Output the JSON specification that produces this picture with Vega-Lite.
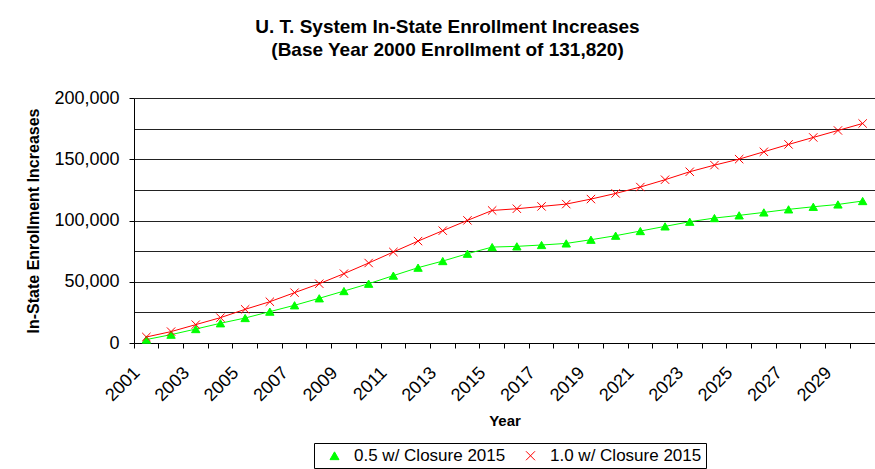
{
  "$schema": "https://vega.github.io/schema/vega-lite/v6.json",
  "width": 741,
  "height": 245,
  "autosize": "none",
  "padding": {"left": 134, "top": 98, "right": 0, "bottom": 126},
  "background": "white",
  "config": {"view": {"stroke": null}, "font": "Liberation Sans"},
  "title": {
    "text": ["U. T. System In-State Enrollment Increases", "(Base Year 2000 Enrollment of 131,820)"],
    "font": "Liberation Sans",
    "fontSize": 19,
    "fontWeight": "bold",
    "color": "black",
    "anchor": "middle",
    "dx": -57,
    "offset": 29,
    "lineHeight": 23
  },
  "data": {
    "values": [
      {"Year": "2001", "Series": "0.5 w/ Closure 2015", "Value": 2800},
      {"Year": "2002", "Series": "0.5 w/ Closure 2015", "Value": 6800},
      {"Year": "2003", "Series": "0.5 w/ Closure 2015", "Value": 11400},
      {"Year": "2004", "Series": "0.5 w/ Closure 2015", "Value": 16100},
      {"Year": "2005", "Series": "0.5 w/ Closure 2015", "Value": 20400},
      {"Year": "2006", "Series": "0.5 w/ Closure 2015", "Value": 25600},
      {"Year": "2007", "Series": "0.5 w/ Closure 2015", "Value": 30800},
      {"Year": "2008", "Series": "0.5 w/ Closure 2015", "Value": 36500},
      {"Year": "2009", "Series": "0.5 w/ Closure 2015", "Value": 42400},
      {"Year": "2010", "Series": "0.5 w/ Closure 2015", "Value": 48400},
      {"Year": "2011", "Series": "0.5 w/ Closure 2015", "Value": 55000},
      {"Year": "2012", "Series": "0.5 w/ Closure 2015", "Value": 61500},
      {"Year": "2013", "Series": "0.5 w/ Closure 2015", "Value": 66900},
      {"Year": "2014", "Series": "0.5 w/ Closure 2015", "Value": 72900},
      {"Year": "2015", "Series": "0.5 w/ Closure 2015", "Value": 78300},
      {"Year": "2016", "Series": "0.5 w/ Closure 2015", "Value": 78900},
      {"Year": "2017", "Series": "0.5 w/ Closure 2015", "Value": 80000},
      {"Year": "2018", "Series": "0.5 w/ Closure 2015", "Value": 81300},
      {"Year": "2019", "Series": "0.5 w/ Closure 2015", "Value": 84300},
      {"Year": "2020", "Series": "0.5 w/ Closure 2015", "Value": 87600},
      {"Year": "2021", "Series": "0.5 w/ Closure 2015", "Value": 91400},
      {"Year": "2022", "Series": "0.5 w/ Closure 2015", "Value": 95200},
      {"Year": "2023", "Series": "0.5 w/ Closure 2015", "Value": 99000},
      {"Year": "2024", "Series": "0.5 w/ Closure 2015", "Value": 102000},
      {"Year": "2025", "Series": "0.5 w/ Closure 2015", "Value": 104200},
      {"Year": "2026", "Series": "0.5 w/ Closure 2015", "Value": 106600},
      {"Year": "2027", "Series": "0.5 w/ Closure 2015", "Value": 109100},
      {"Year": "2028", "Series": "0.5 w/ Closure 2015", "Value": 111200},
      {"Year": "2029", "Series": "0.5 w/ Closure 2015", "Value": 113100},
      {"Year": "2030", "Series": "0.5 w/ Closure 2015", "Value": 115900},
      {"Year": "2001", "Series": "1.0 w/ Closure 2015", "Value": 4900},
      {"Year": "2002", "Series": "1.0 w/ Closure 2015", "Value": 9300},
      {"Year": "2003", "Series": "1.0 w/ Closure 2015", "Value": 15000},
      {"Year": "2004", "Series": "1.0 w/ Closure 2015", "Value": 20700},
      {"Year": "2005", "Series": "1.0 w/ Closure 2015", "Value": 27500},
      {"Year": "2006", "Series": "1.0 w/ Closure 2015", "Value": 33700},
      {"Year": "2007", "Series": "1.0 w/ Closure 2015", "Value": 41100},
      {"Year": "2008", "Series": "1.0 w/ Closure 2015", "Value": 48400},
      {"Year": "2009", "Series": "1.0 w/ Closure 2015", "Value": 56600},
      {"Year": "2010", "Series": "1.0 w/ Closure 2015", "Value": 65300},
      {"Year": "2011", "Series": "1.0 w/ Closure 2015", "Value": 74300},
      {"Year": "2012", "Series": "1.0 w/ Closure 2015", "Value": 83200},
      {"Year": "2013", "Series": "1.0 w/ Closure 2015", "Value": 91700},
      {"Year": "2014", "Series": "1.0 w/ Closure 2015", "Value": 100100},
      {"Year": "2015", "Series": "1.0 w/ Closure 2015", "Value": 108200},
      {"Year": "2016", "Series": "1.0 w/ Closure 2015", "Value": 109600},
      {"Year": "2017", "Series": "1.0 w/ Closure 2015", "Value": 111500},
      {"Year": "2018", "Series": "1.0 w/ Closure 2015", "Value": 113400},
      {"Year": "2019", "Series": "1.0 w/ Closure 2015", "Value": 117500},
      {"Year": "2020", "Series": "1.0 w/ Closure 2015", "Value": 122100},
      {"Year": "2021", "Series": "1.0 w/ Closure 2015", "Value": 127300},
      {"Year": "2022", "Series": "1.0 w/ Closure 2015", "Value": 133300},
      {"Year": "2023", "Series": "1.0 w/ Closure 2015", "Value": 139800},
      {"Year": "2024", "Series": "1.0 w/ Closure 2015", "Value": 145200},
      {"Year": "2025", "Series": "1.0 w/ Closure 2015", "Value": 150100},
      {"Year": "2026", "Series": "1.0 w/ Closure 2015", "Value": 156100},
      {"Year": "2027", "Series": "1.0 w/ Closure 2015", "Value": 162100},
      {"Year": "2028", "Series": "1.0 w/ Closure 2015", "Value": 167800},
      {"Year": "2029", "Series": "1.0 w/ Closure 2015", "Value": 173500},
      {"Year": "2030", "Series": "1.0 w/ Closure 2015", "Value": 179200}
    ]
  },
  "encoding": {
    "x": {
      "field": "Year",
      "type": "ordinal",
      "title": "Year",
      "scale": {"type": "band", "paddingInner": 0, "paddingOuter": 0},
      "axis": {
        "bandPosition": 0,
        "labelExpr": "parseInt(datum.value) % 2 === 1 ? datum.value : ''",
        "labelAngle": -45,
        "labelAlign": "right",
        "labelBaseline": "middle",
        "labelFont": "Liberation Sans",
        "labelFontSize": 18,
        "labelColor": "black",
        "labelPadding": 22,
        "labelOffset": -9,
        "labelOverlap": false,
        "labelBound": false,
        "tickSize": 5,
        "tickColor": "black",
        "domainColor": "black",
        "grid": false,
        "titleFont": "Liberation Sans",
        "titleFontSize": 15,
        "titleFontWeight": "bold",
        "titleColor": "black",
        "titlePadding": 9
      }
    },
    "y": {
      "field": "Value",
      "type": "quantitative",
      "title": "In-State Enrollment Increases",
      "scale": {"domain": [0, 200000], "nice": false},
      "axis": {
        "values": [0, 25000, 50000, 75000, 100000, 125000, 150000, 175000, 200000],
        "labelExpr": "datum.value % 50000 === 0 ? format(datum.value, ',') : ''",
        "tickOpacity": {"condition": {"test": "datum.value % 50000 !== 0", "value": 0}, "value": 1},
        "grid": true,
        "gridColor": "#222222",
        "gridWidth": 1,
        "domainColor": "black",
        "tickColor": "black",
        "tickSize": 5,
        "labelFont": "Liberation Sans",
        "labelFontSize": 18,
        "labelColor": "black",
        "labelPadding": 10,
        "titleFont": "Liberation Sans",
        "titleFontSize": 16,
        "titleFontWeight": "bold",
        "titleColor": "black",
        "titlePadding": 12
      }
    }
  },
  "layer": [
    {
      "mark": {"type": "line", "strokeWidth": 1},
      "encoding": {
        "color": {
          "field": "Series",
          "type": "nominal",
          "scale": {"domain": ["0.5 w/ Closure 2015", "1.0 w/ Closure 2015"], "range": ["#00ff00", "#ff0000"]},
          "legend": {
            "orient": "none",
            "legendX": 180,
            "legendY": 345,
            "direction": "horizontal",
            "title": null,
            "strokeColor": "black",
            "padding": 4,
            "labelFont": "Liberation Sans",
            "labelFontSize": 17,
            "labelColor": "black",
            "labelOffset": 11,
            "symbolOffset": 8,
            "columnPadding": 8,
            "symbolSize": 81,
            "encode": {
              "symbols": {
                "update": {
                  "strokeWidth": {"value": 1},
                  "opacity": {"value": 1}
                }
              }
            }
          }
        }
      }
    },
    {
      "mark": {"type": "point", "filled": true, "opacity": 1, "strokeWidth": 1, "size": 70},
      "encoding": {
        "color": {
          "field": "Series",
          "type": "nominal",
          "scale": {"domain": ["0.5 w/ Closure 2015", "1.0 w/ Closure 2015"], "range": ["#00ff00", "#ff0000"]},
          "legend": {
            "orient": "none",
            "legendX": 180,
            "legendY": 345,
            "direction": "horizontal",
            "title": null,
            "strokeColor": "black",
            "padding": 4,
            "labelFont": "Liberation Sans",
            "labelFontSize": 17,
            "labelColor": "black",
            "labelOffset": 11,
            "symbolOffset": 8,
            "columnPadding": 8,
            "symbolSize": 81,
            "encode": {
              "symbols": {
                "update": {
                  "strokeWidth": {"value": 1},
                  "opacity": {"value": 1}
                }
              }
            }
          }
        },
        "shape": {
          "field": "Series",
          "type": "nominal",
          "scale": {"domain": ["0.5 w/ Closure 2015", "1.0 w/ Closure 2015"], "range": ["triangle-up", "M-1,-1L1,1M-1,1L1,-1"]},
          "legend": {
            "orient": "none",
            "legendX": 180,
            "legendY": 345,
            "direction": "horizontal",
            "title": null,
            "strokeColor": "black",
            "padding": 4,
            "labelFont": "Liberation Sans",
            "labelFontSize": 17,
            "labelColor": "black",
            "labelOffset": 11,
            "symbolOffset": 8,
            "columnPadding": 8,
            "symbolSize": 81,
            "encode": {
              "symbols": {
                "update": {
                  "strokeWidth": {"value": 1},
                  "opacity": {"value": 1}
                }
              }
            }
          }
        },
        "stroke": {
          "condition": {"test": "datum.Series === '1.0 w/ Closure 2015'", "value": "#ff0000"},
          "value": "#00ff00"
        }
      }
    }
  ]
}
